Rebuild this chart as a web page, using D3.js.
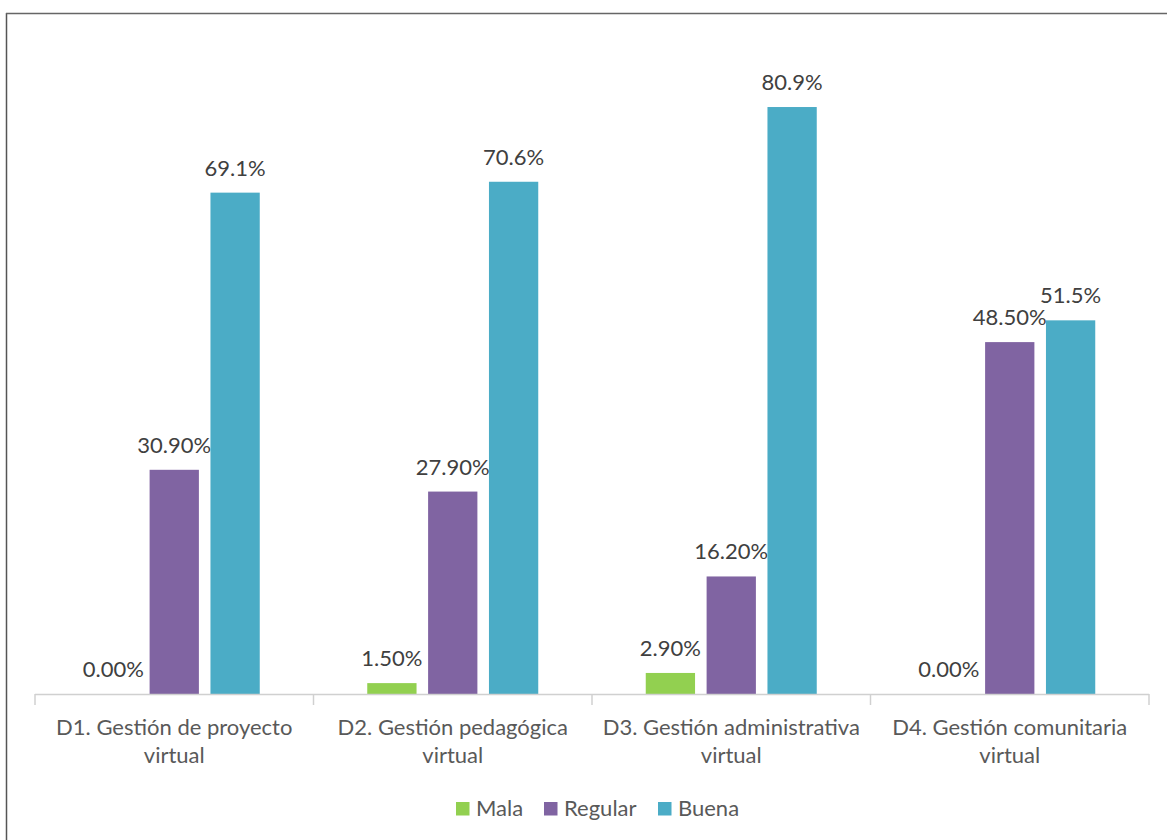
<!DOCTYPE html>
<html><head><meta charset="utf-8">
<script src="https://cdn.jsdelivr.net/npm/d3@7"></script>
<style>body{margin:0;background:#fff}svg{display:block}</style>
</head><body>
<svg id="c" width="1167" height="840"></svg>
<script>
const categories = [["D1. Gestión de proyecto","virtual"],["D2. Gestión pedagógica","virtual"],["D3. Gestión administrativa","virtual"],["D4. Gestión comunitaria","virtual"]];
const seriesNames = ["Mala","Regular","Buena"];
const mala = [0.0, 1.5, 2.9, 0.0];
const regular = [30.9, 27.9, 16.2, 48.5];
const buena = [69.1, 70.6, 80.9, 51.5];
const labelsMala = ["0.00%","1.50%","2.90%","0.00%"];
const labelsRegular = ["30.90%","27.90%","16.20%","48.50%"];
const labelsBuena = ["69.1%","70.6%","80.9%","51.5%"];
const colors = ["#92D050","#8064A2","#4BACC6"];

const svg = d3.select("#c");
const font = "Lato, sans-serif";
// frame
svg.append("line").attr("x1",6.5).attr("x2",6.5).attr("y1",13).attr("y2",840).attr("stroke","#555").attr("stroke-width",1.5);
svg.append("line").attr("x1",6).attr("x2",1167).attr("y1",13.5).attr("y2",13.5).attr("stroke","#666").attr("stroke-width",1.5);

const x0 = d3.scaleBand().domain(d3.range(4)).range([35,1149]).paddingInner(0).paddingOuter(0);
const bw = x0.bandwidth();
const x1 = d3.scaleBand().domain(d3.range(3)).range([bw/2-85.5, bw/2+85.5]).paddingInner(0.19).paddingOuter(0);
const y = d3.scaleLinear().domain([0,90]).range([694,41]);

const series = [mala, regular, buena];
const labels = [labelsMala, labelsRegular, labelsBuena];

const g = svg.append("g");
categories.forEach((c,i)=>{
  series.forEach((s,j)=>{
    const xx = x0(i)+x1(j);
    g.append("rect").attr("x",xx).attr("y",y(s[i])).attr("width",x1.bandwidth()).attr("height",y(0)-y(s[i])).attr("fill",colors[j]);
    g.append("text").attr("x",xx+x1.bandwidth()/2).attr("y",y(s[i])-17)
      .attr("text-anchor","middle").attr("font-family",font).attr("font-size",22).attr("fill","#404040").text(labels[j][i]);
  });
});

// axis
const ax = svg.append("g");
ax.append("line").attr("x1",35).attr("x2",1149).attr("y1",694.5).attr("y2",694.5).attr("stroke","#D0D0D0").attr("stroke-width",1.5);
d3.range(5).forEach(i=>{
  const xx = i<4 ? x0(i) : 1149;
  ax.append("line").attr("x1",xx).attr("x2",xx).attr("y1",694).attr("y2",705).attr("stroke","#D0D0D0").attr("stroke-width",1.5);
});
categories.forEach((c,i)=>{
  const t = ax.append("text").attr("x",x0(i)+bw/2).attr("y",735).attr("text-anchor","middle")
    .attr("font-family",font).attr("font-size",22).attr("fill","#595959");
  c.forEach((line,k)=>t.append("tspan").attr("x",x0(i)+bw/2).attr("dy",k?28:0).text(line));
});

// legend
const legX = [456,544,658];
seriesNames.forEach((n,j)=>{
  svg.append("rect").attr("x",legX[j]).attr("y",802).attr("width",13.5).attr("height",13.5).attr("fill",colors[j]);
  svg.append("text").attr("x",legX[j]+20).attr("y",816).attr("font-family",font).attr("font-size",22).attr("fill","#595959").text(n);
});
</script>
</body></html>
